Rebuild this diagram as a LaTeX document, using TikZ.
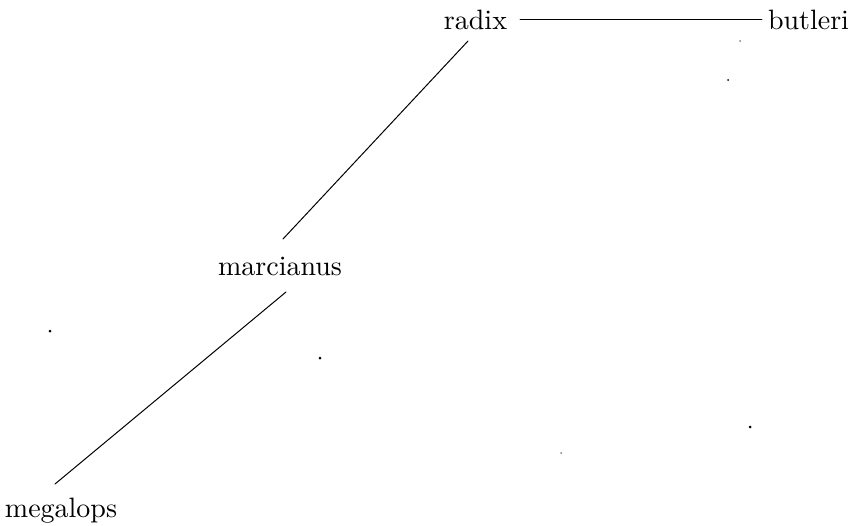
\documentclass[tikz,border=0pt]{standalone}
\usepackage{fontspec}
\newfontfamily\tenfont{lmroman10-regular.otf}
\begin{document}
\begin{tikzpicture}[x=1pt,y=-1pt,
  lbl/.style={inner sep=0pt,anchor=base,font=\tenfont\fontsize{28}{34}\selectfont},
  edge/.style={line width=1pt,line cap=round},
  speck/.style={fill=black,inner sep=0pt,minimum size=3pt,circle}]
\useasboundingbox (0,0) rectangle (851,525);
\node[lbl] (radix) at (475.5,29) {radix};
\node[lbl] (butleri) at (808.5,29) {butleri};
\node[lbl] (marcianus) at (280,275) {marcianus};
\node[lbl] (megalops) at (61,517) {megalops};
\coordinate (rb1) at (520,19.5);
\coordinate (rb2) at (762,19.5);
\coordinate (rm1) at (468,41);
\coordinate (rm2) at (283,239);
\coordinate (mm1) at (286,292);
\coordinate (mm2) at (55,484);
\draw[edge,line width=0.8pt] (rb1) -- (rb2);
\draw[edge] (rm1) -- (rm2);
\draw[edge] (mm1) -- (mm2);
\node[speck] (s1) at (50,331) {};
\node[speck] (s2) at (320,358) {};
\node[speck,minimum size=2pt,fill=gray] (s3) at (740,41) {};
\node[speck,minimum size=2pt] (s4) at (728,80) {};
\node[speck] (s5) at (750,427) {};
\node[speck,minimum size=2pt,fill=gray] (s6) at (561,453) {};
\end{tikzpicture}
\end{document}
